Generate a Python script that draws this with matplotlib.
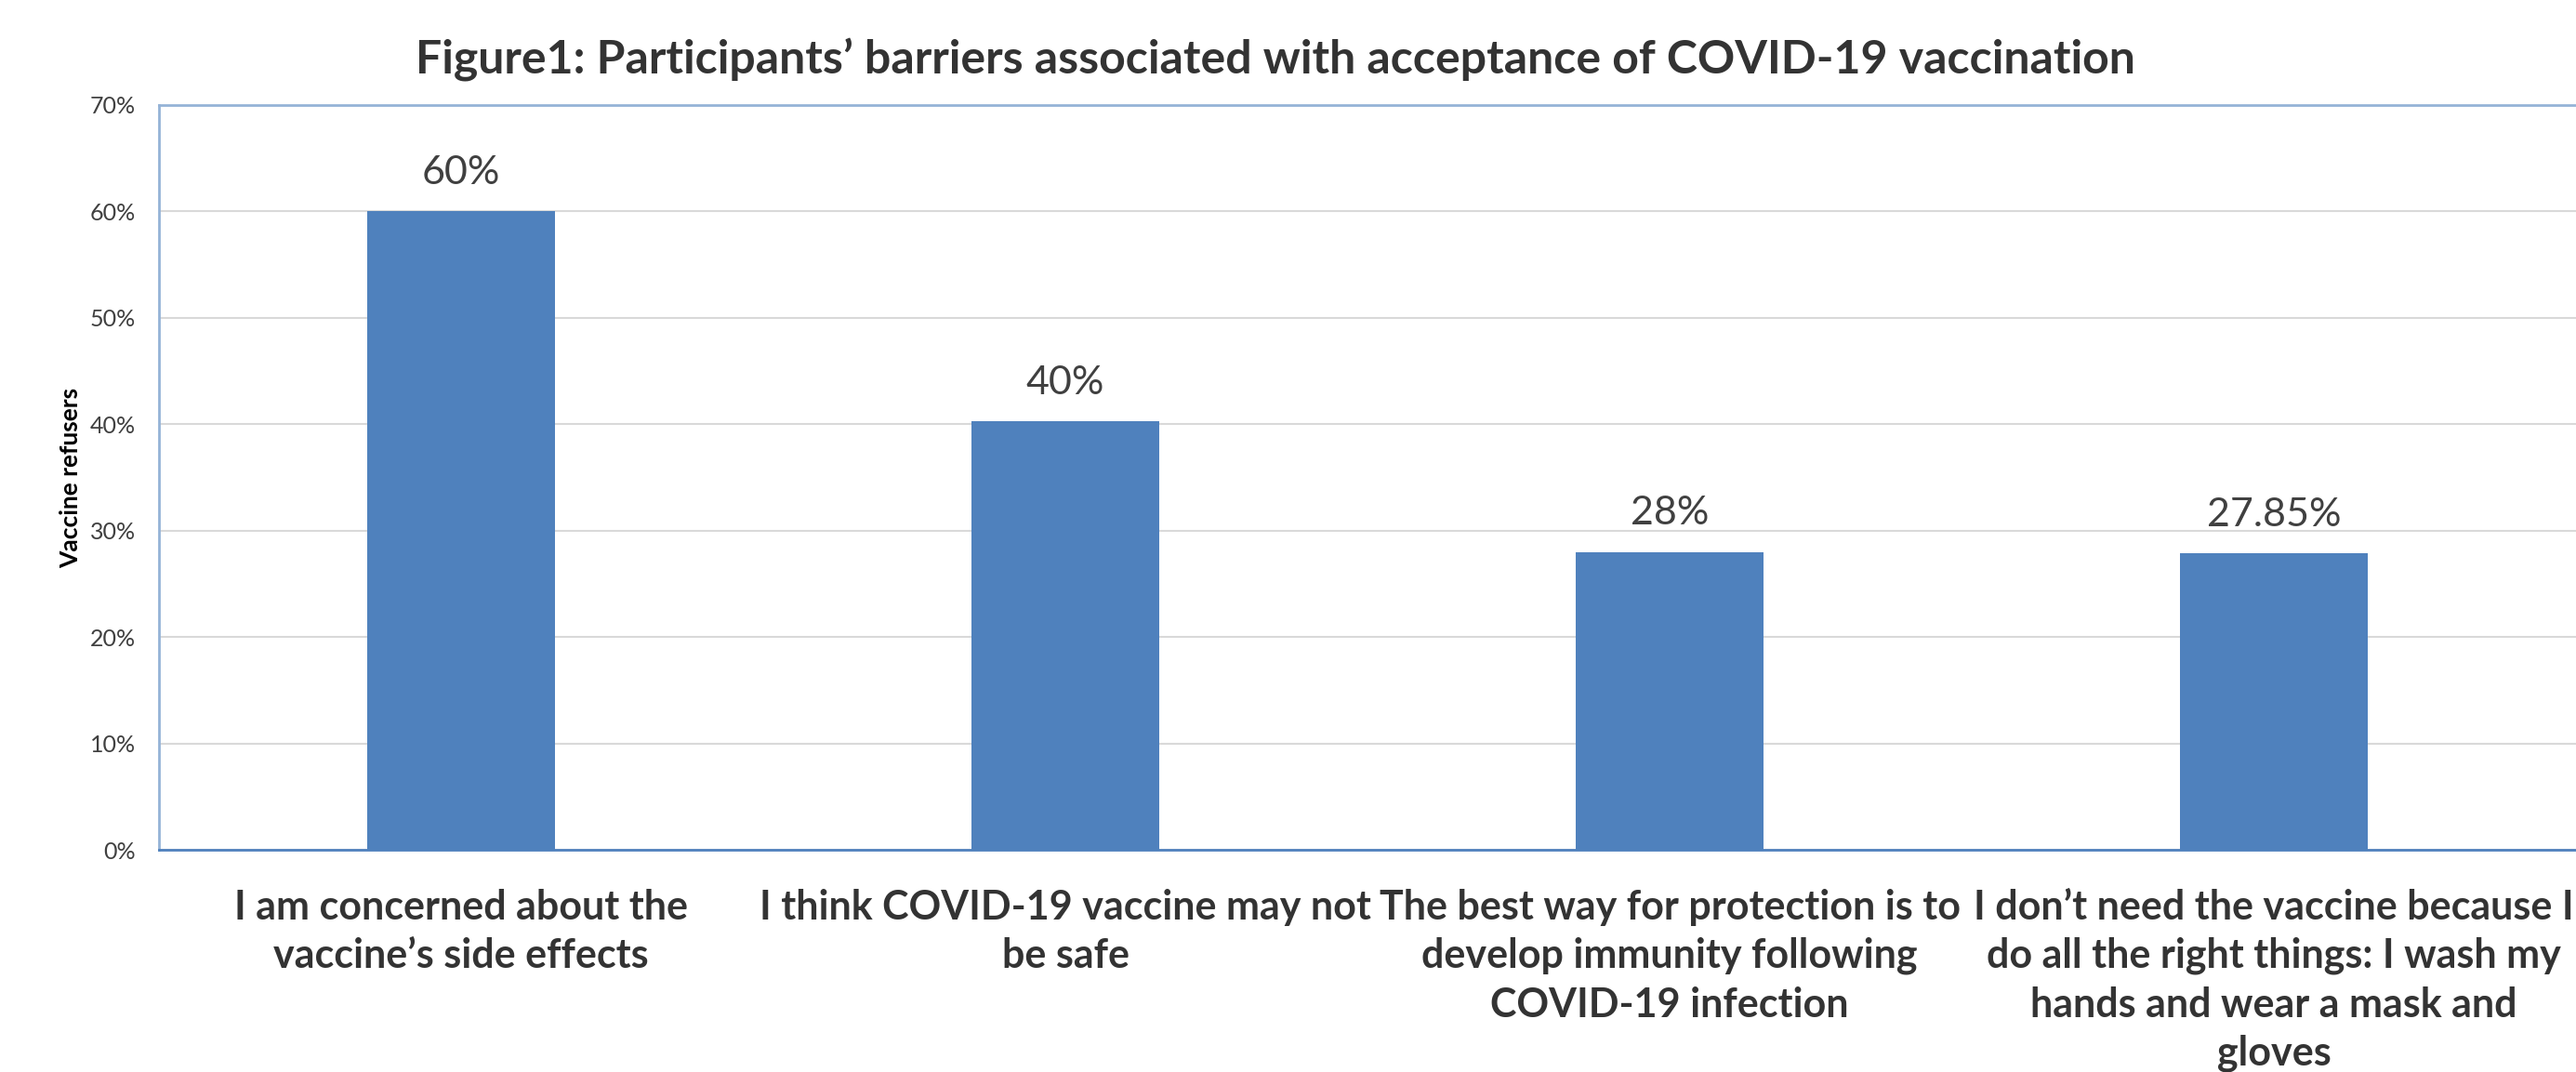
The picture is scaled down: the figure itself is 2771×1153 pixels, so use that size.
import matplotlib
matplotlib.use("Agg")
import matplotlib.pyplot as plt
from matplotlib.ticker import FuncFormatter

categories = [
    "I am concerned about the\nvaccine\u2019s side effects",
    "I think COVID-19 vaccine may not\nbe safe",
    "The best way for protection is to\ndevelop immunity following\nCOVID-19 infection",
    "I don\u2019t need the vaccine because I\ndo all the right things: I wash my\nhands and wear a mask and\ngloves",
]
values = [60.0, 40.3, 28.0, 27.85]
value_labels = ["60%", "40%", "28%", "27.85%"]
yticks = [0, 10, 20, 30, 40, 50, 60, 70]
title = "Figure1: Participants\u2019 barriers associated with acceptance of COVID-19 vaccination"
ylabel = "Vaccine refusers"

plt.rcParams['font.family'] = ['Lato', 'DejaVu Sans']

W, H = 2771, 1153
dpi = 100
fig = plt.figure(figsize=(W / dpi, H / dpi), dpi=dpi)
fig.patch.set_facecolor("white")
ax = fig.add_axes([171 / W, (H - 914) / H, (W - 171) / W, (914 - 113) / H])

x = list(range(len(categories)))
ax.bar(x, values, width=0.312, color="#4F81BD", zorder=3)
ax.set_xlim(-0.5, len(categories) - 0.5)
ax.set_ylim(0, 70)
ax.set_yticks(yticks)
ax.yaxis.set_major_formatter(FuncFormatter(lambda v, p: f"{v:.0f}%"))
ax.grid(axis="y", color="#D9D9D9", linewidth=1.5, zorder=0)
ax.set_axisbelow(True)

ax.spines["right"].set_visible(False)
ax.spines["left"].set_color("#95B3D7")
ax.spines["left"].set_linewidth(2)
ax.spines["top"].set_color("#95B3D7")
ax.spines["top"].set_linewidth(2)
ax.spines["bottom"].set_color("#4F81BD")
ax.spines["bottom"].set_linewidth(2)

ax.tick_params(axis="y", length=0, pad=18, labelsize=18, labelcolor="#404040")
ax.tick_params(axis="x", length=0, pad=30)
ax.set_xticks(x)
ax.set_xticklabels(categories, fontsize=31, fontweight="bold", color="#333333",
                   linespacing=1.37, va="top")

for xi, v, lab in zip(x, values, value_labels):
    ax.annotate(lab, (xi, v), xytext=(0, 16), textcoords="offset points",
                ha="center", va="bottom", fontsize=31, color="#404040")

ax.set_ylabel(ylabel, fontsize=19, fontweight="bold", color="#000000", labelpad=6)

fig.text(1372 / W, 1 - 65 / H, title, ha="center", va="center", fontsize=36,
         fontweight="bold", color="#333333")

fig.savefig("out.png", dpi=dpi, facecolor="white")
